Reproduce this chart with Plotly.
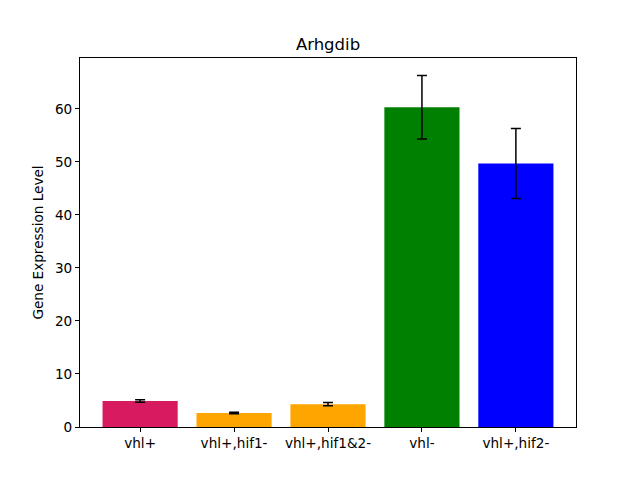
import plotly.graph_objects as go

# data
groups = ["vhl+", "vhl+,hif1-", "vhl+,hif1&2-", "vhl-", "vhl+,hif2-"]
expression = [4.9, 2.65, 4.3, 60.3, 49.7]
errors = [0.25, 0.15, 0.3, 6.0, 6.6]
bar_colors = ["#D81B60", "orange", "orange", "green", "blue"]

fig = go.Figure(go.Bar(
    x=list(range(len(groups))),
    y=expression,
    width=0.8,
    marker=dict(color=bar_colors, line=dict(width=0)),
    error_y=dict(type="data", array=errors, color="black", thickness=1.5, width=5),
))

# the page adds an 8px body margin, so the figure is shifted by 8px
fig.update_layout(
    width=640, height=480,
    paper_bgcolor="white", plot_bgcolor="white",
    margin=dict(l=72, r=72, t=50, b=61),
    font=dict(family="DejaVu Sans", size=13.6, color="black"),
    title=dict(text="Arhgdib", x=(72 + 248) / 640, xanchor="center", y=1 - 36 / 480,
               yanchor="middle", font=dict(size=16.5)),
    showlegend=False,
    bargap=0.2,
)
fig.update_xaxes(
    range=[-0.64, 4.64], tickvals=list(range(len(groups))), ticktext=groups,
    showline=True, mirror=True, linecolor="black", linewidth=1, automargin=False,
    ticks="outside", ticklen=4, tickcolor="black", showgrid=False, zeroline=False,
)
fig.update_yaxes(
    range=[0, 69.6], tickvals=[0, 10, 20, 30, 40, 50, 60],
    title=dict(text="Gene Expression Level", standoff=8, font=dict(size=13.6)),
    showline=True, mirror=True, linecolor="black", linewidth=1, automargin=False,
    ticks="outside", ticklen=4, tickcolor="black", showgrid=False, zeroline=False,
)

fig.write_html("out.html")
